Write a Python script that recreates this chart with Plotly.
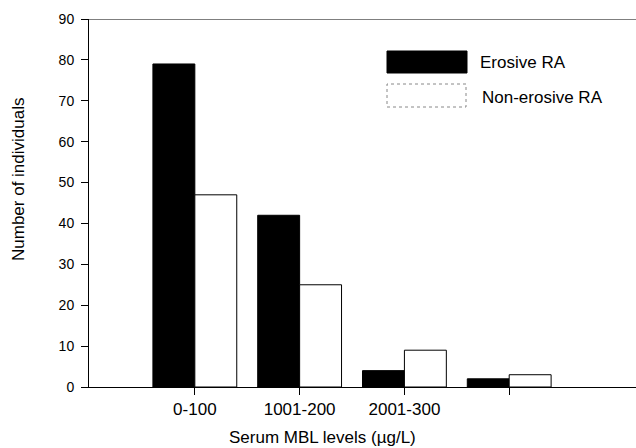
import plotly.graph_objects as go

categories = ["0-100", "1001-200", "2001-300", ""]
erosive = [79, 42, 4, 2]
non_erosive = [47, 25, 9, 3]
y_ticks = [0, 10, 20, 30, 40, 50, 60, 70, 80, 90]

FONT = "Liberation Sans, Arial, sans-serif"
xpos = list(range(len(categories)))

fig = go.Figure()
fig.add_trace(go.Bar(x=xpos, y=erosive, name="Erosive RA",
                     marker=dict(color="black", line=dict(color="black", width=1)),
                     showlegend=False))
fig.add_trace(go.Bar(x=xpos, y=non_erosive, name="Non-erosive RA",
                     marker=dict(color="white", line=dict(color="black", width=1)),
                     showlegend=False))

fig.update_layout(
    width=636, height=448,
    margin=dict(l=89, r=0, t=19, b=61),
    paper_bgcolor="white", plot_bgcolor="white",
    barmode="group", bargap=0.2, bargroupgap=0,
    font=dict(family=FONT, color="black"),
)
fig.update_xaxes(range=[-1.01, 4.21], tickvals=xpos, ticktext=categories,
                 showline=True, linecolor="black", linewidth=1,
                 ticks="outside", ticklen=7, tickcolor="black",
                 showgrid=False, zeroline=False,
                 tickfont=dict(size=17, family=FONT))
fig.update_yaxes(range=[0, 90], tickvals=y_ticks,
                 showline=True, linecolor="black", linewidth=1,
                 ticks="outside", ticklen=7, tickcolor="black",
                 showgrid=False, zeroline=False, ticklabelstandoff=4,
                 tickfont=dict(size=14, family=FONT))

# top frame line
fig.add_shape(type="line", xref="paper", yref="y", x0=0, x1=1, y0=90, y1=90,
              line=dict(color="black", width=1))

# axis titles
fig.add_annotation(text="Serum MBL levels (\u00b5g/L)", xref="paper", yref="paper",
                   x=(322 - 89) / 547, y=-(437 - 387) / 368, showarrow=False,
                   font=dict(size=17, family=FONT), xanchor="center", yanchor="middle")
fig.add_annotation(text="Number of individuals", xref="paper", yref="paper",
                   x=-(89 - 18) / 547, y=(387 - 180) / 368, showarrow=False, textangle=-90,
                   font=dict(size=17, family=FONT), xanchor="center", yanchor="middle")

# legend
fig.add_shape(type="rect", xref="paper", yref="paper",
              x0=(387 - 89) / 547, x1=(467 - 89) / 547,
              y0=(387 - 73) / 368, y1=(387 - 51) / 368,
              fillcolor="black", line=dict(color="black", width=1))
fig.add_shape(type="rect", xref="paper", yref="paper",
              x0=(387 - 89) / 547, x1=(466 - 89) / 547,
              y0=(387 - 107) / 368, y1=(387 - 84) / 368,
              fillcolor="white", line=dict(color="#888888", width=1, dash="dot"))
fig.add_annotation(text="Erosive RA", xref="paper", yref="paper",
                   x=(478 - 89) / 547, y=(387 - 63) / 368, showarrow=False,
                   xanchor="left", yanchor="middle", font=dict(size=17, family=FONT))
fig.add_annotation(text="Non-erosive RA", xref="paper", yref="paper",
                   x=(480 - 89) / 547, y=(387 - 97) / 368, showarrow=False,
                   xanchor="left", yanchor="middle", font=dict(size=17, family=FONT))

fig.write_html("out.html", config={"displayModeBar": False},
               post_script="document.body.style.margin='0';document.body.style.padding='0';")
